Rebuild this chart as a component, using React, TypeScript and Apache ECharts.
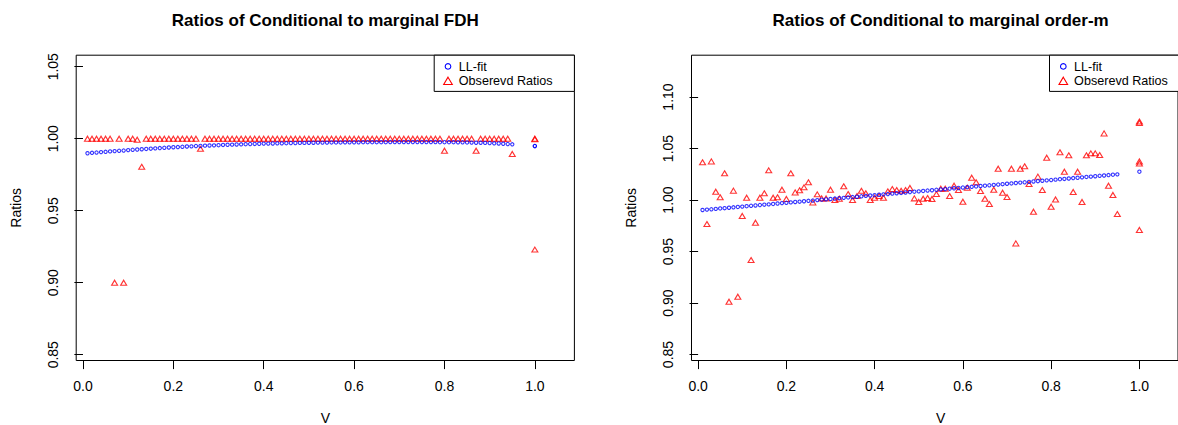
import React, { useEffect, useRef } from "react";
import * as echarts from "echarts";

// ---------- data ----------
const vGrid = [
  0.01, 0.02, 0.03, 0.04, 0.05, 0.06, 0.07, 0.08, 0.09, 0.1,
  0.11, 0.12, 0.13, 0.14, 0.15, 0.16, 0.17, 0.18, 0.19, 0.2,
  0.21, 0.22, 0.23, 0.24, 0.25, 0.26, 0.27, 0.28, 0.29, 0.3,
  0.31, 0.32, 0.33, 0.34, 0.35, 0.36, 0.37, 0.38, 0.39, 0.4,
  0.41, 0.42, 0.43, 0.44, 0.45, 0.46, 0.47, 0.48, 0.49, 0.5,
  0.51, 0.52, 0.53, 0.54, 0.55, 0.56, 0.57, 0.58, 0.59, 0.6,
  0.61, 0.62, 0.63, 0.64, 0.65, 0.66, 0.67, 0.68, 0.69, 0.7,
  0.71, 0.72, 0.73, 0.74, 0.75, 0.76, 0.77, 0.78, 0.79, 0.8,
  0.81, 0.82, 0.83, 0.84, 0.85, 0.86, 0.87, 0.88, 0.89, 0.9,
  0.91, 0.92, 0.93, 0.94, 0.95,
];

const fdhFit = [
  0.9899, 0.9902, 0.9904, 0.9907, 0.9909, 0.9912, 0.9914, 0.9916, 0.9918, 0.9921,
  0.9923, 0.9925, 0.9927, 0.9929, 0.9931, 0.9933, 0.9935, 0.9937, 0.9939, 0.9941,
  0.9942, 0.9944, 0.9946, 0.9947, 0.9949, 0.995, 0.9952, 0.9953, 0.9954, 0.9955,
  0.9957, 0.9958, 0.9959, 0.996, 0.9961, 0.9962, 0.9963, 0.9964, 0.9965, 0.9966,
  0.9966, 0.9967, 0.9968, 0.9968, 0.9969, 0.997, 0.997, 0.9971, 0.9971, 0.9972,
  0.9972, 0.9973, 0.9973, 0.9973, 0.9974, 0.9974, 0.9974, 0.9975, 0.9975, 0.9975,
  0.9975, 0.9976, 0.9976, 0.9976, 0.9976, 0.9976, 0.9976, 0.9977, 0.9977, 0.9977,
  0.9977, 0.9977, 0.9977, 0.9977, 0.9977, 0.9977, 0.9977, 0.9977, 0.9976, 0.9976,
  0.9976, 0.9976, 0.9975, 0.9975, 0.9974, 0.9973, 0.9972, 0.9972, 0.9971, 0.997,
  0.9968, 0.9967, 0.9965, 0.9963, 0.9961,
];
const fdhFitAtOne = [0.9949, 0.9949];

const fdhObs = [
  1.0, 1.0, 1.0, 1.0, 1.0, 1.0, 0.9, 1.0, 0.9, 1.0,
  1.0, 0.9993, 0.9805, 1.0, 1.0, 1.0, 1.0, 1.0, 1.0, 1.0,
  1.0, 1.0, 1.0, 1.0, 1.0, 0.993, 1.0, 1.0, 1.0, 1.0,
  1.0, 1.0, 1.0, 1.0, 1.0, 1.0, 1.0, 1.0, 1.0, 1.0,
  1.0, 1.0, 1.0, 1.0, 1.0, 1.0, 1.0, 1.0, 1.0, 1.0,
  1.0, 1.0, 1.0, 1.0, 1.0, 1.0, 1.0, 1.0, 1.0, 1.0,
  1.0, 1.0, 1.0, 1.0, 1.0, 1.0, 1.0, 1.0, 1.0, 1.0,
  1.0, 1.0, 1.0, 1.0, 1.0, 1.0, 1.0, 1.0, 1.0, 0.9917,
  1.0, 1.0, 1.0, 1.0, 1.0, 1.0, 0.9917, 1.0, 1.0, 1.0,
  1.0, 1.0, 1.0, 1.0, 0.9894,
];
const fdhObsAtOne = [1.0, 0.9997, 0.923];

const ordFit = [
  0.9903, 0.9907, 0.991, 0.9914, 0.9918, 0.9921, 0.9925, 0.9929, 0.9933, 0.9936,
  0.994, 0.9944, 0.9947, 0.9951, 0.9955, 0.9958, 0.9962, 0.9966, 0.997, 0.9973,
  0.9977, 0.9981, 0.9984, 0.9988, 0.9992, 0.9995, 0.9999, 1.0003, 1.0007, 1.001,
  1.0014, 1.0018, 1.0021, 1.0025, 1.0029, 1.0032, 1.0036, 1.004, 1.0044, 1.0047,
  1.0051, 1.0055, 1.0058, 1.0062, 1.0066, 1.0069, 1.0073, 1.0077, 1.0081, 1.0084,
  1.0088, 1.0092, 1.0095, 1.0099, 1.0103, 1.0106, 1.011, 1.0114, 1.0117, 1.0121,
  1.0125, 1.0128, 1.0132, 1.0136, 1.0139, 1.0143, 1.0147, 1.015, 1.0154, 1.0158,
  1.0161, 1.0165, 1.0169, 1.0172, 1.0176, 1.018, 1.0183, 1.0187, 1.0191, 1.0194,
  1.0198, 1.0202, 1.0205, 1.0209, 1.0213, 1.0216, 1.022, 1.0224, 1.0227, 1.0231,
  1.0235, 1.0238, 1.0242, 1.0246, 1.0249,
];
const ordFitAtOne = [1.0275];

const ordObs = [
  1.0366, 0.9767, 1.0375, 1.0081, 1.0026, 1.0259, 0.9013, 1.0091, 0.9061, 0.9845,
  1.0023, 0.9417, 0.978, 1.0023, 1.0065, 1.0288, 1.0023, 1.0026, 1.01, 1.001,
  1.0259, 1.0074, 1.0094, 1.0123, 1.0172, 0.9977, 1.0055, 1.0016, 1.0016, 1.01,
  1.0, 1.0013, 1.0133, 1.0058, 1.0, 1.0039, 1.009, 1.0065, 1.0, 1.0023,
  1.0039, 1.0023, 1.0084, 1.0107, 1.0097, 1.009, 1.0097, 1.0117, 1.0016, 0.9981,
  1.0013, 1.0019, 1.001, 1.0058, 1.011, 1.011, 1.0039, 1.0139, 1.0097, 0.9984,
  1.012, 1.0217, 1.0172, 1.0087, 1.0013, 0.9961, 1.01, 1.0304, 1.0071, 1.0029,
  1.0304, 0.9579, 1.0304, 1.0327, 1.0155, 0.9887, 1.0227, 1.0097, 1.0411, 0.9935,
  1.0006, 1.0463, 1.0275, 1.0434, 1.0078, 1.0275, 0.9981, 1.0434, 1.0453, 1.0453,
  1.0437, 1.0647, 1.0139, 1.0049, 0.9864,
];
const ordObsAtOne = [1.0762, 1.0748, 1.0375, 1.0355, 0.9709];

const xTicks = [0, 0.2, 0.4, 0.6, 0.8, 1.0];
const yTicksFdh = [0.85, 0.9, 0.95, 1.0, 1.05];
const yTicksOrd = [0.85, 0.9, 0.95, 1.0, 1.05, 1.1];

const titles = ["Ratios of Conditional to marginal FDH", "Ratios of Conditional to marginal order-m"];
const legendLabels = ["LL-fit", "Obserevd Ratios"];
const xName = "V";
const yName = "Ratios";

// ---------- layout ----------
const FONT = "Liberation Sans, Arial, Helvetica, sans-serif";
const BLUE = "#0000FF";
const RED = "#FF0000";
const PANELS = [
  { left: 76.2, yMin: 0.846, yMax: 1.058, ticks: yTicksFdh },
  { left: 691.5, yMin: 0.8442, yMax: 1.1406, ticks: yTicksOrd },
];
const TOP = 55.2;
const W = 498.2;
const H = 305.3;
const X_MIN = -0.015;
const X_MAX = 1.0875;
const ROW1 = 66.4;
const ROW2 = 81.0;

function pairs(xs: number[], ys: number[]) {
  return ys.map((y, i) => [xs[i], y]);
}
function atOne(ys: number[]) {
  return ys.map((y) => [1.0, y]);
}

function legendText(text: string, x: number, y: number) {
  return {
    type: "text",
    x,
    y,
    style: {
      text,
      font: `12.6px ${FONT}`,
      fill: "#000",
      align: "left",
      verticalAlign: "middle",
      textAlign: "left",
      textVerticalAlign: "middle",
    },
    z: 11,
  };
}

function legendGraphics(boxLeft: number) {
  const cx = boxLeft + 13.8;
  const tx = boxLeft + 24.6;
  return [
    {
      type: "rect",
      shape: { x: boxLeft, y: TOP, width: 140.2, height: 36.2 },
      style: { fill: "#fff", stroke: "#000", lineWidth: 1 },
      z: 10,
    },
    {
      type: "circle",
      shape: { cx, cy: ROW1, r: 2.8 },
      style: { fill: "none", stroke: BLUE, lineWidth: 1.1 },
      z: 11,
    },
    {
      type: "polygon",
      shape: { points: [[cx, ROW2 - 3.8], [cx + 4.3, ROW2 + 3.5], [cx - 4.3, ROW2 + 3.5]] },
      style: { fill: "none", stroke: RED, lineWidth: 1.1 },
      z: 11,
    },
    legendText(legendLabels[0], tx, ROW1 + 0.3),
    legendText(legendLabels[1], tx, ROW2 + 0.3),
  ];
}

export default function App() {
  const ref = useRef<HTMLDivElement>(null);
  useEffect(() => {
    if (!ref.current) return;
    const chart = echarts.init(ref.current, null, { renderer: "svg" });

    const grids = PANELS.map((p) => ({
      left: p.left,
      top: TOP,
      width: W,
      height: H,
      show: true,
      borderColor: "#000",
      borderWidth: 1,
      backgroundColor: "transparent",
    }));

    const xAxes = PANELS.map((_, i) => ({
      type: "value",
      gridIndex: i,
      min: X_MIN,
      max: X_MAX,
      axisLine: { show: false },
      splitLine: { show: false },
      axisTick: { show: true, length: 8.6, customValues: xTicks, lineStyle: { color: "#000", width: 1 } },
      axisLabel: {
        customValues: xTicks,
        formatter: (v: number) => v.toFixed(1),
        margin: 25.7,
        verticalAlign: "middle",
        align: "center",
        fontSize: 14,
        fontFamily: FONT,
        color: "#000",
      },
    }));

    const yAxes = PANELS.map((p, i) => ({
      type: "value",
      gridIndex: i,
      min: p.yMin,
      max: p.yMax,
      axisLine: { show: false },
      splitLine: { show: false },
      axisTick: { show: true, length: 8.6, customValues: p.ticks, lineStyle: { color: "#000", width: 1 } },
      axisLabel: {
        customValues: p.ticks,
        formatter: (v: number) => v.toFixed(2),
        rotate: 90,
        margin: 23.7,
        align: "center",
        verticalAlign: "middle",
        fontSize: 14,
        fontFamily: FONT,
        color: "#000",
      },
    }));

    const obsSeries = (data: number[][], i: number) => ({
      type: "scatter",
      xAxisIndex: i,
      yAxisIndex: i,
      data,
      symbol: "triangle",
      symbolSize: [6, 5],
      itemStyle: { color: "none", borderColor: RED, borderWidth: 1.1 },
      z: 2,
    });
    const fitSeries = (data: number[][], i: number) => ({
      type: "scatter",
      xAxisIndex: i,
      yAxisIndex: i,
      data,
      symbol: "circle",
      symbolSize: 3.3,
      itemStyle: { color: "none", borderColor: BLUE, borderWidth: 1.1 },
      z: 3,
    });

    const series = [
      obsSeries([...pairs(vGrid, fdhObs), ...atOne(fdhObsAtOne)], 0),
      fitSeries([...pairs(vGrid, fdhFit), ...atOne(fdhFitAtOne)], 0),
      obsSeries([...pairs(vGrid, ordObs), ...atOne(ordObsAtOne)], 1),
      fitSeries([...pairs(vGrid, ordFit), ...atOne(ordFitAtOne)], 1),
    ];

    const textStyle = (text: string, size: number, bold: boolean) => ({
      text,
      font: `${bold ? "bold " : ""}${size}px ${FONT}`,
      fill: "#000",
      align: "center",
      verticalAlign: "middle",
      textAlign: "center",
      textVerticalAlign: "middle",
    });

    const graphics: any[] = [];
    PANELS.forEach((p, i) => {
      const cx = p.left + W / 2;
      graphics.push({ type: "text", x: cx, y: 20.5, style: textStyle(titles[i], 17, true), z: 5 });
      graphics.push({ type: "text", x: cx, y: 418, style: textStyle(xName, 14, false), z: 5 });
      graphics.push({
        type: "text",
        x: p.left - 60.2,
        y: TOP + H / 2,
        rotation: Math.PI / 2,
        style: textStyle(yName, 14, false),
        z: 5,
      });
      graphics.push(...legendGraphics(p.left + 358));
    });

    chart.setOption({
      animation: false,
      backgroundColor: "#fff",
      grid: grids,
      xAxis: xAxes,
      yAxis: yAxes,
      series,
      graphic: { elements: graphics },
    } as any);

    return () => chart.dispose();
  }, []);

  return (
    <div
      ref={ref}
      style={{ position: "absolute", left: 0, top: 0, width: 1178, height: 425 }}
    />
  );
}
